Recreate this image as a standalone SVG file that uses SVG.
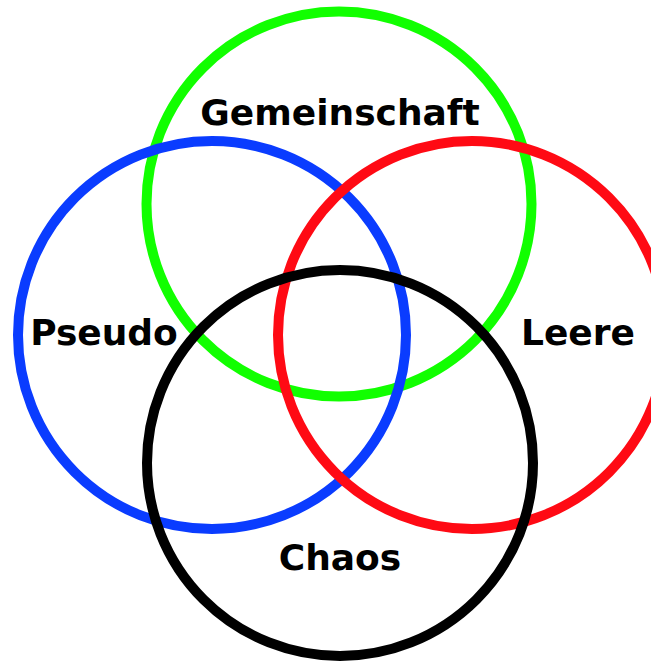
<svg xmlns="http://www.w3.org/2000/svg" width="651" height="661" viewBox="0 0 651 661">
<style>
.c{fill:none;stroke-width:10}
.t{font-family:"DejaVu Sans",sans-serif;font-weight:bold;font-size:36px;fill:#000;text-anchor:middle}
</style>
<rect width="651" height="661" fill="#fff"/>
<g id="connectors"/>
<g id="gemeinschaft"><circle class="c" cx="339" cy="204" r="192.5" stroke="#11ff00"/><text class="t" x="340" y="125">Gemeinschaft</text></g>
<g id="pseudo"><circle class="c" cx="212" cy="335" r="194" stroke="#0a3cff"/><text class="t" x="104" y="345">Pseudo</text></g>
<g id="leere"><circle class="c" cx="472" cy="335" r="194" stroke="#ff0a14"/><text class="t" x="578" y="345">Leere</text></g>
<g id="chaos"><circle class="c" cx="340" cy="463" r="193" stroke="#000"/><text class="t" x="340" y="570">Chaos</text></g>
</svg>
